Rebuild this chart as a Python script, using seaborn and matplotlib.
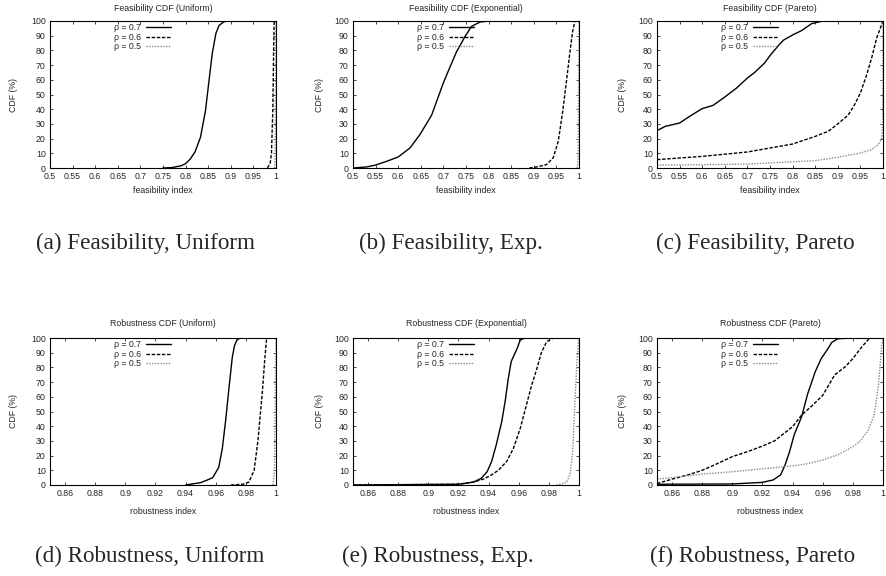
import numpy as np
import pandas as pd
import matplotlib
matplotlib.use('Agg')
import matplotlib.pyplot as plt
import seaborn as sns
from matplotlib.ticker import FuncFormatter

# CDF curves (x = index value, y = CDF in %)
rho_labels = ['\u03c1 = 0.7', '\u03c1 = 0.6', '\u03c1 = 0.5']

# (a) Feasibility, Uniform
fu7_x = [0.75, 0.77, 0.79, 0.80, 0.81, 0.821, 0.833, 0.844, 0.852, 0.859, 0.867, 0.874, 0.885, 0.895]
fu7_y = [0, 0.3, 1.5, 3, 6, 11, 21, 39, 60, 78, 91.5, 97, 99.5, 100]
fu6_x = [0.981, 0.987, 0.990, 0.993, 0.995, 0.996]
fu6_y = [0, 3, 10, 40, 85, 100]
fu5_x = [0.997, 0.998, 0.999, 1.0]
fu5_y = [0, 5, 50, 100]

# (b) Feasibility, Exponential
fe7_x = [0.50, 0.53, 0.55, 0.574, 0.60, 0.626, 0.648, 0.674, 0.70, 0.715, 0.729, 0.748, 0.7625, 0.781, 0.803]
fe7_y = [0, 0.7, 2, 4.5, 7.5, 13.6, 22.7, 36, 58, 69, 79, 89.6, 96.4, 99.3, 100]
fe6_x = [0.89, 0.903, 0.928, 0.943, 0.954, 0.964, 0.973, 0.980, 0.986, 0.991]
fe6_y = [0, 0.5, 2.3, 7, 18, 38.5, 61, 79, 93, 100]
fe5_x = [0.996, 0.998, 0.999, 1.0]
fe5_y = [0, 5, 50, 100]

# (c) Feasibility, Pareto
fp7_x = [0.5, 0.518, 0.55, 0.569, 0.584, 0.60, 0.624, 0.65, 0.676, 0.70, 0.716, 0.738, 0.75, 0.772,
         0.78, 0.80, 0.82, 0.842, 0.864, 0.879]
fp7_y = [25.4, 28.3, 30.6, 34.5, 37.4, 40.4, 42.6, 48.3, 54.4, 61.2, 65, 71.4, 76.5, 84.5,
         87, 90.5, 93.5, 98.2, 99.8, 100]
fp6_x = [0.5, 0.6, 0.7, 0.75, 0.8, 0.85, 0.879, 0.9, 0.923, 0.937, 0.95, 0.964, 0.975, 0.986, 0.997, 1.0]
fp6_y = [5.7, 7.9, 10.9, 13.6, 16.3, 21.5, 25, 30, 36, 43, 51, 63.5, 75, 88.4, 97.5, 100]
fp5_x = [0.5, 0.6, 0.7, 0.8, 0.85, 0.9, 0.95, 0.975, 0.99, 0.997, 0.9995, 1.0]
fp5_y = [2, 2.2, 2.7, 4.2, 5, 7.3, 10.2, 12.5, 16, 20, 29, 100]

# (d) Robustness, Uniform
ru7_x = [0.94, 0.95, 0.9544, 0.958, 0.962, 0.9644, 0.9667, 0.969, 0.971, 0.9725, 0.974, 0.976]
ru7_y = [0, 1.6, 3.4, 5, 12, 25, 45, 68, 87, 95, 98.5, 100]
ru6_x = [0.97, 0.978, 0.982, 0.9855, 0.988, 0.991, 0.9925, 0.9938]
ru6_y = [0, 0.5, 2, 10, 30, 64, 85, 100]
ru5_x = [0.998, 0.999, 0.9995, 1.0]
ru5_y = [0, 10, 60, 100]

# (e) Robustness, Exponential
re7_x = [0.85, 0.92, 0.93, 0.935, 0.939, 0.942, 0.945, 0.9487, 0.951, 0.953, 0.955, 0.959, 0.961, 0.964]
re7_y = [0, 0.5, 2, 4.5, 9, 16, 27, 43, 57, 72, 84, 93, 98.6, 100]
re6_x = [0.85, 0.92, 0.93, 0.9365, 0.941, 0.9465, 0.952, 0.9565, 0.961, 0.965, 0.9686, 0.972, 0.975, 0.9785, 0.983]
re6_y = [0, 0.5, 2, 4, 6.3, 10, 16, 25, 38.5, 54, 68, 79, 90, 97.5, 100]
re5_x = [0.985, 0.9874, 0.9918, 0.994, 0.9958, 0.9973, 0.9985, 0.9996, 1.0]
re5_y = [0, 0.5, 2, 7, 22.6, 56.5, 81.6, 97.5, 100]

# (f) Robustness, Pareto
rp7_x = [0.85, 0.90, 0.92, 0.927, 0.932, 0.935, 0.938, 0.941, 0.946, 0.950, 0.955, 0.959, 0.963, 0.966, 0.97, 0.98]
rp7_y = [0.5, 0.7, 1.8, 3.4, 6.8, 13.6, 22.7, 34, 46.5, 62, 77, 86, 92, 97, 99.5, 100]
rp6_x = [0.85, 0.86, 0.871, 0.88, 0.888, 0.90, 0.911, 0.92, 0.928, 0.94, 0.946, 0.953, 0.96, 0.968,
         0.975, 0.98, 0.986, 0.991, 1.0]
rp6_y = [1, 4, 7, 10, 13.6, 19.3, 23, 26.5, 30, 39.7, 47.6, 54, 61, 75, 80.5, 86, 94, 99.8, 100]
rp5_x = [0.85, 0.86, 0.88, 0.90, 0.92, 0.94, 0.95, 0.96, 0.97, 0.98, 0.985, 0.99, 0.994, 0.997, 0.999, 1.0]
rp5_y = [4, 5, 7.5, 9, 11, 13, 14.5, 17, 20.5, 26, 30, 37, 47, 68, 93, 100]

titles = ['Feasibility CDF (Uniform)', 'Feasibility CDF (Exponential)', 'Feasibility CDF (Pareto)',
          'Robustness CDF (Uniform)', 'Robustness CDF (Exponential)', 'Robustness CDF (Pareto)']
captions = ['(a) Feasibility, Uniform', '(b) Feasibility, Exp.', '(c) Feasibility, Pareto',
            '(d) Robustness, Uniform', '(e) Robustness, Exp.', '(f) Robustness, Pareto']

panels = [
    [(fu7_x, fu7_y), (fu6_x, fu6_y), (fu5_x, fu5_y)],
    [(fe7_x, fe7_y), (fe6_x, fe6_y), (fe5_x, fe5_y)],
    [(fp7_x, fp7_y), (fp6_x, fp6_y), (fp5_x, fp5_y)],
    [(ru7_x, ru7_y), (ru6_x, ru6_y), (ru5_x, ru5_y)],
    [(re7_x, re7_y), (re6_x, re6_y), (re5_x, re5_y)],
    [(rp7_x, rp7_y), (rp6_x, rp6_y), (rp5_x, rp5_y)],
]

sns.set_style('ticks')
plt.rcParams['font.family'] = ['Liberation Sans', 'DejaVu Sans']

line_colors = ['black', 'black', '#8a8a8a']
line_styles = ['-', (0, (2.5, 1.2)), (0, (1, 1))]

fig = plt.figure(figsize=(8.86, 5.76), dpi=100)
W, H = 886.0, 576.0
col_left = [50, 353, 657]
row_bottom = [168, 485]
ax_w, ax_h = 226, 147
ylab_x = [-0.142, -0.127, -0.132]
xlab_y = [-0.125, -0.15]
title_pad = [7.5, 9]

def fmt(v, pos):
    return '%g' % round(v, 4)

for i in range(6):
    r, c = divmod(i, 3)
    ax = fig.add_axes([col_left[c] / W, (H - row_bottom[r]) / H, ax_w / W, ax_h / H])
    for k, (xs, ys) in enumerate(panels[i]):
        df = pd.DataFrame({'x': xs, 'y': ys})
        sns.lineplot(data=df, x='x', y='y', ax=ax, estimator=None, sort=False,
                     color=line_colors[k], linestyle=line_styles[k], linewidth=1.0,
                     label=rho_labels[k])
    if r == 0:
        ax.set_xlim(0.5, 1.0)
        ax.set_xticks(np.linspace(0.5, 1.0, 11))
        ax.set_xlabel('feasibility index', fontsize=6.3)
    else:
        ax.set_xlim(0.85, 1.0)
        ax.set_xticks(np.linspace(0.86, 1.0, 8))
        ax.set_xlabel('robustness index', fontsize=6.3)
    ax.set_ylim(0, 100)
    ax.set_yticks(range(0, 101, 10))
    ax.xaxis.set_major_formatter(FuncFormatter(fmt))
    ax.set_ylabel('CDF (%)', fontsize=6.3)
    ax.yaxis.set_label_coords(ylab_x[c], 0.5)
    ax.xaxis.set_label_coords(0.5, xlab_y[r])
    ax.set_title(titles[i], fontsize=6.3, pad=title_pad[r])
    ax.tick_params(direction='in', top=True, right=True, length=2.5, width=0.6,
                   labelsize=6.3, pad=3)
    for sp in ax.spines.values():
        sp.set_linewidth(0.8)
        sp.set_color('black')
    ax.legend(loc='upper right', bbox_to_anchor=(0.545, 1.0), frameon=False,
              markerfirst=False, fontsize=6.3, handlelength=2.8, handletextpad=0.6,
              labelspacing=0.05, borderpad=0.25, borderaxespad=0)

cap_x = [145, 451, 755, 150, 438, 753]
cap_y = [243, 243, 243, 556, 556, 556]
for i in range(6):
    fig.text(cap_x[i] / W, 1 - cap_y[i] / H, captions[i], ha='center', va='center',
             fontsize=16.7, family='Liberation Serif')

fig.savefig('out.png', dpi=100)
